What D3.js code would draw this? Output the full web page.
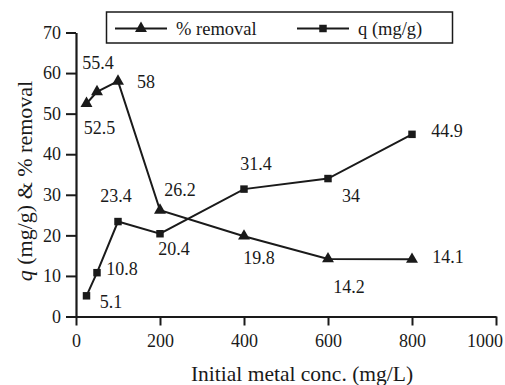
<!DOCTYPE html>
<html><head><meta charset="utf-8">
<script src="https://cdn.jsdelivr.net/npm/d3@7"></script>
</head><body style="margin:0"><svg id="c" width="505" height="385" font-family="Liberation Serif"></svg>
<script>
const concentrations = [25, 50, 100, 200, 400, 600, 800];
const removal = [52.5, 55.4, 58, 26.2, 19.8, 14.2, 14.1];
const qValues = [5.1, 10.8, 23.4, 20.4, 31.4, 34, 44.9];
const xTicks = [0, 200, 400, 600, 800, 1000];
const yTicks = [0, 10, 20, 30, 40, 50, 60, 70];
// label offsets (dx, dy) of the label centre relative to its point, in px
const removalLabelOffsets = [[13, 24], [1, -28.5], [28, 1], [20, -20], [15, 22], [21, 28], [36, -2]];
const qLabelOffsets = [[24.5, 6], [25, -3.7], [-2, -25.5], [14, 15.4], [12, -25], [23, 17.5], [35, -3]];

const FF = "Liberation Serif";
const INK = "#1a1a1a";
const svg = d3.select("#c");
const x = d3.scaleLinear().domain([0, 1000]).range([76, 496]);
const y = d3.scaleLinear().domain([0, 70]).range([316.5, 32.5]);
const fs = 18;

function styleAxis(g) {
  g.attr("font-family", FF).attr("font-size", fs);
  g.select(".domain").attr("stroke", INK).attr("stroke-width", 2.2);
  g.selectAll(".tick line").attr("stroke", INK).attr("stroke-width", 2);
  g.selectAll("text").attr("font-family", FF).attr("font-size", fs).attr("fill", INK);
}
const xAxisG = svg.append("g").attr("transform", "translate(0,316.5)")
  .call(d3.axisBottom(x).tickValues(xTicks).tickFormat(d3.format("d")).tickSize(9).tickSizeOuter(0).tickPadding(9))
  .call(styleAxis);
// keep the last tick label inside the picture, as in the reference
xAxisG.selectAll(".tick text").filter(d => d === 1000).attr("text-anchor", "end").attr("x", 6.5);
svg.append("g").attr("transform", "translate(76,0)")
  .call(d3.axisLeft(y).tickValues(yTicks).tickFormat(d3.format("d")).tickSize(10).tickSizeOuter(0).tickPadding(5))
  .call(styleAxis);

svg.append("text").attr("x", 302).attr("y", 381).attr("text-anchor", "middle")
  .attr("font-family", FF).attr("font-size", 21.5).attr("fill", INK)
  .text("Initial metal conc. (mg/L)");
const yl = svg.append("text").attr("transform", "translate(32,181) rotate(-90)").attr("text-anchor", "middle")
  .attr("font-family", FF).attr("font-size", 22).attr("fill", INK);
yl.append("tspan").attr("font-style", "italic").text("q");
yl.append("tspan").text(" (mg/g) & % removal");

const line = d3.line().x((d, i) => x(concentrations[i])).y(d => y(d));
svg.append("path").datum(removal).attr("d", line).attr("fill", "none").attr("stroke", INK).attr("stroke-width", 2);
svg.append("path").datum(qValues).attr("d", line).attr("fill", "none").attr("stroke", INK).attr("stroke-width", 2);

const tri = d3.symbol().type(d3.symbolTriangle).size(62);
const sq = d3.symbol().type(d3.symbolSquare).size(56);
svg.selectAll(".tri").data(removal).join("path").attr("class", "tri").attr("d", tri)
  .attr("transform", (d, i) => `translate(${x(concentrations[i])},${y(d)})`).attr("fill", INK);
svg.selectAll(".sq").data(qValues).join("path").attr("class", "sq").attr("d", sq)
  .attr("transform", (d, i) => `translate(${x(concentrations[i])},${y(d)})`).attr("fill", INK);

svg.selectAll(".rl").data(removal).join("text").attr("class", "rl")
  .attr("font-family", FF).attr("font-size", fs).attr("fill", INK).attr("text-anchor", "middle")
  .attr("x", (d, i) => x(concentrations[i]) + removalLabelOffsets[i][0])
  .attr("y", (d, i) => y(d) + removalLabelOffsets[i][1] + 6).text(d => d);
svg.selectAll(".ql").data(qValues).join("text").attr("class", "ql")
  .attr("font-family", FF).attr("font-size", fs).attr("fill", INK).attr("text-anchor", "middle")
  .attr("x", (d, i) => x(concentrations[i]) + qLabelOffsets[i][0])
  .attr("y", (d, i) => y(d) + qLabelOffsets[i][1] + 6).text(d => d);

// legend
const lg = svg.append("g");
lg.append("rect").attr("x", 106.5).attr("y", 12).attr("width", 346).attr("height", 31)
  .attr("fill", "#fff").attr("stroke", INK).attr("stroke-width", 1.5);
const legendItems = [{label: "% removal", sym: tri, x0: 115}, {label: "q (mg/g)", sym: sq, x0: 297}];
legendItems.forEach(it => {
  lg.append("line").attr("x1", it.x0).attr("x2", it.x0 + 52).attr("y1", 28.5).attr("y2", 28.5).attr("stroke", INK).attr("stroke-width", 2);
  lg.append("path").attr("d", it.sym).attr("transform", `translate(${it.x0 + 26},28.5)`).attr("fill", INK);
  lg.append("text").attr("x", it.x0 + 61).attr("y", 35).attr("font-family", FF).attr("font-size", 18.5).attr("fill", INK).text(it.label);
});
</script></body></html>
